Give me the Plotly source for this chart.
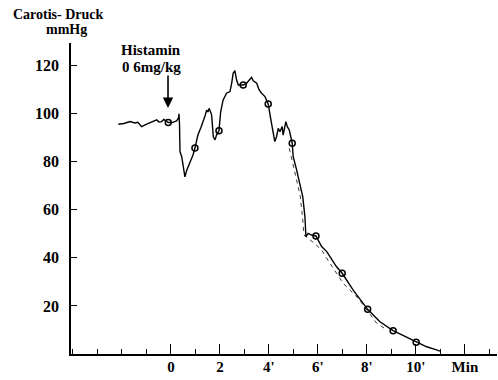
import plotly.graph_objects as go

# Carotid pressure trace (minutes after histamine injection, mmHg)
trace_t = [-2.15, -1.92, -1.67, -1.47, -1.35, -1.20, -0.99, -0.79, -0.58, -0.49,
           -0.38, -0.29, -0.11, 0.04, 0.23, 0.31, 0.33, 0.35, 0.37, 0.44,
           0.49, 0.57, 0.65, 0.78, 0.90, 0.98, 1.10, 1.22, 1.32, 1.39,
           1.46, 1.51, 1.56, 1.66, 1.73, 1.80, 1.86, 1.96, 2.03, 2.13,
           2.27, 2.41, 2.48, 2.54, 2.61, 2.68, 2.75, 2.95, 3.09, 3.18,
           3.29, 3.36, 3.50, 3.60, 3.70, 3.84, 3.97, 4.08, 4.18, 4.24,
           4.31, 4.38, 4.45, 4.54, 4.58, 4.69, 4.75, 4.83, 4.95, 4.99,
           5.13, 5.27, 5.38, 5.47, 5.51, 5.60, 5.74, 5.92, 6.15, 6.36,
           6.76, 6.99, 7.44, 8.03, 8.53, 9.07, 9.62, 10.01, 10.44, 10.84,
           10.98]
trace_p = [95.6, 95.9, 96.7, 96.1, 96.4, 94.6, 95.6, 96.4, 97.4, 96.5,
           96.7, 97.6, 96.3, 96.3, 97.0, 98.2, 99.9, 95.3, 84.2, 82.1,
           78.7, 73.7, 76.6, 79.5, 82.8, 85.7, 91.1, 94.1, 96.7, 99.0,
           101.5, 100.7, 102.2, 99.5, 90.4, 89.1, 91.1, 92.9, 100.8, 105.7,
           108.5, 109.2, 112.7, 116.8, 117.9, 114.0, 111.9, 111.9, 112.7, 114.0,
           115.1, 113.7, 112.7, 109.9, 108.5, 107.1, 104.0, 97.4, 92.5, 88.4,
           90.4, 93.9, 92.5, 94.6, 91.1, 96.7, 94.6, 93.2, 87.7, 82.1,
           76.6, 69.6, 65.5, 57.1, 48.8, 50.2, 49.5, 49.1, 44.7, 42.6,
           36.3, 33.6, 26.6, 18.6, 13.4, 9.7, 6.9, 4.9, 3.0, 1.7,
           1.2]

# Readings marked with open circles
mark_t = [-0.11, 0.98, 1.96, 2.95, 3.97, 4.95, 5.92, 6.99, 8.03, 9.07, 10.01]
mark_p = [96.3, 85.7, 92.9, 111.9, 104.0, 87.7, 49.1, 33.6, 18.6, 9.7, 4.9]

# Second (dashed) recording during the fall
dash_t = [4.83, 5.05, 5.27, 5.36, 5.43, 5.80, 6.15, 6.36, 7.03, 7.64, 8.40, 8.70]
dash_p = [85.6, 76.0, 66.2, 58.0, 49.5, 46.5, 43.3, 39.8, 29.4, 23.2, 12.8, 10.8]

# Axis ticks
x_major = [0, 2, 4, 6, 8, 10, 12]
x_labels = ["0", "2", "4'", "6'", "8'", "10'", "Min"]
y_major = [20, 40, 60, 80, 100, 120]
y_labels = ["20", "40", "60", "80", "100", "120"]

FONT = "Liberation Serif"


def serif(size):
    return dict(family=FONT, size=size, color="black", weight="bold")


fig = go.Figure()
fig.add_trace(go.Scatter(x=dash_t, y=dash_p, mode="lines",
                         line=dict(color="#222", width=0.9, dash="4px,4px"),
                         hoverinfo="skip"))
fig.add_trace(go.Scatter(x=trace_t, y=trace_p, mode="lines",
                         line=dict(color="black", width=1.4)))
fig.add_trace(go.Scatter(x=mark_t, y=mark_p, mode="markers",
                         marker=dict(symbol="circle-open", size=6, color="black",
                                     line=dict(width=1.5))))

# Injection arrow and label
fig.add_annotation(x=-0.12, y=102.4, ax=-0.12, ay=116.5, xref="x", yref="y",
                   axref="x", ayref="y", showarrow=True, arrowhead=2,
                   arrowsize=1.3, arrowwidth=1.6, arrowcolor="black", text="")
fig.add_annotation(x=-0.8, y=126.5, text="Histamin", showarrow=False,
                   xanchor="center", font=serif(15))
fig.add_annotation(x=-0.8, y=119.3, text="0 6mg/kg", showarrow=False,
                   xanchor="center", font=serif(15))

# Axis title (two lines, top-left)
fig.add_annotation(xref="paper", yref="paper", x=(58 - 71) / 426, y=(354 - 14) / 311,
                   text="Carotis- Druck", showarrow=False, xanchor="center",
                   yanchor="middle", font=serif(14))
fig.add_annotation(xref="paper", yref="paper", x=(66 - 71) / 426, y=(354 - 30) / 311,
                   text="mmHg", showarrow=False, xanchor="center",
                   yanchor="middle", font=serif(14))

fig.update_layout(
    width=498, height=380,
    margin=dict(l=71, r=1, t=43, b=26),
    paper_bgcolor="white", plot_bgcolor="white",
    showlegend=False,
    xaxis=dict(range=[-4.08, 13.31], tickvals=x_major, ticktext=x_labels,
               ticks="inside", ticklen=10, tickwidth=1.3, tickcolor="black",
               minor=dict(dtick=1, tick0=0, ticks="inside", ticklen=5,
                          tickwidth=1, tickcolor="black"),
               showline=True, linecolor="black", linewidth=1.8,
               showgrid=False, zeroline=False, ticklabelstandoff=-2,
               tickfont=serif(15)),
    yaxis=dict(range=[0, 129.4], tickvals=y_major, ticktext=y_labels,
               ticks="inside", ticklen=6, tickwidth=1.3, tickcolor="black",
               showline=True, linecolor="black", linewidth=1.8,
               showgrid=False, zeroline=False, ticklabelstandoff=7,
               tickfont=serif(16)),
)

fig.write_html("out.html")
